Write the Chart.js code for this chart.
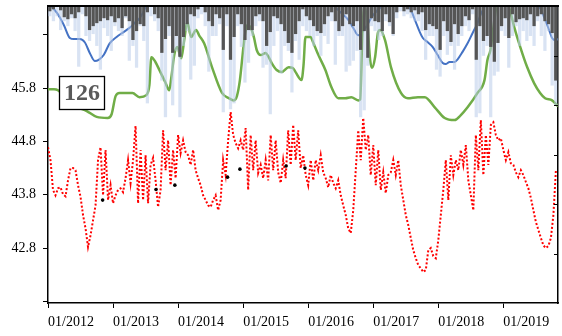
<!DOCTYPE html>
<html>
<head>
<meta charset="utf-8">
<script src="https://cdn.jsdelivr.net/npm/chart.js@4.4.1/dist/chart.umd.min.js"></script>
<style>
  body { margin: 0; background: #fff; }
  #wrap { width: 562px; height: 336px; }
</style>
</head>
<body>
<div id="wrap"><canvas id="levelChart" width="562" height="336"></canvas></div>
<script>
// axis ticks
const tickYears = [2012, 2013, 2014, 2015, 2016, 2017, 2018, 2019];
const yTickMarks = [41.8, 42.8, 43.8, 44.8, 45.8, 46.8];
const yTickLabels = [42.8, 43.8, 44.8, 45.8];

// water level, one reading every two weeks from 01/2012
const redPerYear = 26;
const redVals = [
  44.69,44.45,43.89,43.79,43.92,43.94,43.81,43.77,44.07,44.30,44.30,44.26,43.98,43.76,43.42,43.17,42.82,43.04,43.32,43.60,44.45,44.69,43.79,44.64,43.70,43.98,
  43.64,43.79,43.89,43.92,43.85,44.11,44.45,44.02,44.45,45.09,43.64,44.64,43.70,44.54,43.64,44.36,44.49,44.07,43.57,43.89,45.01,44.26,44.82,43.98,44.64,44.11,
  44.92,44.58,44.82,44.60,44.54,44.36,44.64,44.26,44.11,43.98,43.79,43.70,43.60,43.57,43.70,43.79,43.51,43.70,44.45,44.17,44.82,45.35,44.92,44.77,44.67,44.82,
  44.64,45.05,43.89,44.92,44.26,44.82,44.21,44.36,44.11,44.45,44.07,44.92,44.26,44.82,44.22,44.02,44.45,44.11,45.01,44.36,45.11,44.45,45.01,44.30,44.54,44.17,
  43.98,44.45,44.07,44.45,44.26,44.54,44.22,44.11,43.94,44.17,44.02,43.92,44.07,43.79,43.60,43.42,43.17,43.08,43.51,44.26,45.01,44.45,45.24,44.64,44.92,44.17,
  44.73,43.98,44.64,43.89,44.22,43.83,44.17,44.22,44.45,44.17,44.45,43.98,43.70,43.42,43.23,42.99,42.76,42.61,42.48,42.42,42.35,42.39,42.76,42.80,42.65,42.61,
  42.95,43.42,43.89,44.45,43.70,44.54,44.17,44.45,44.26,44.64,44.36,44.73,44.07,43.79,43.51,44.92,44.26,45.20,44.17,44.92,44.36,45.11,45.16,44.92,44.82,44.86,
  44.64,44.45,44.60,44.39,44.36,44.22,44.13,44.26,44.17,44.04,43.92,43.74,43.51,43.29,43.14,42.99,42.85,42.80,42.84,42.99,43.42,44.26
];

// single measurements
const dotDates = [2012.84, 2013.66, 2013.95, 2014.76, 2014.95, 2015.66, 2015.95];
const dotVals = [43.70, 43.90, 43.98, 44.13, 44.28, 44.34, 44.30];

// green series
const greenDates = [
  2012.000,2012.092,2012.153,2012.275,2012.428,2012.596,2012.749,2012.917,2012.978,
  2013.039,2013.100,2013.299,2013.406,2013.513,2013.559,2013.589,2013.651,2013.712,2013.803,2013.864,2013.895,2013.941,2013.987,
  2014.048,2014.094,2014.140,2014.201,2014.277,2014.323,2014.400,2014.522,2014.675,2014.782,2014.858,2014.904,2014.950,
  2015.011,2015.057,2015.118,2015.164,2015.210,2015.271,2015.347,2015.393,2015.439,2015.515,2015.592,2015.699,2015.760,2015.806,2015.897,2015.928,2015.958,
  2016.035,2016.081,2016.157,2016.264,2016.356,2016.463,2016.570,2016.662,2016.769,2016.799,2016.830,2016.860,2016.906,2016.952,2016.982,
  2017.028,2017.074,2017.105,2017.181,2017.273,2017.426,2017.533,2017.686,2017.793,2017.945,
  2018.098,2018.251,2018.343,2018.450,2018.603,2018.710,2018.756,2018.801,2018.862,2018.908,
  2019.031,2019.092,2019.168,2019.260,2019.367,2019.474,2019.565,2019.642,2019.749,2019.840
];
const greenVals = [
  45.78,45.78,45.76,45.61,45.46,45.37,45.26,45.24,45.31,
  45.65,45.71,45.71,45.63,45.67,45.86,46.38,46.29,46.14,45.91,45.76,45.99,46.42,46.57,
  46.36,46.70,47.04,46.76,46.89,46.79,46.64,46.19,45.71,45.61,45.57,45.65,45.95,
  46.64,46.98,46.93,46.76,46.51,46.42,46.46,46.38,46.27,46.14,46.10,46.19,46.18,46.10,45.95,46.23,46.76,
  46.76,46.64,46.42,46.14,45.82,45.61,45.61,45.63,45.57,45.59,46.70,47.32,47.08,46.33,46.18,
  46.38,46.85,46.89,46.70,46.19,45.71,45.61,45.63,45.63,45.44,
  45.24,45.20,45.29,45.44,45.71,45.95,46.33,46.51,47.08,47.39,
  47.45,47.30,46.94,46.57,46.19,45.89,45.71,45.61,45.57,45.46
];

// blue series
const blueDates = [
  2012.000,2012.061,2012.138,2012.245,2012.336,2012.397,2012.489,2012.565,2012.642,2012.718,2012.779,2012.856,2012.948,
  2013.055,2013.161,2013.253,2013.330,2013.406,2013.467,2013.528,2013.712,
  2014.323,2014.552,2014.659,2014.751,2014.873,2015.011,2015.851,
  2016.310,2016.417,2016.509,2016.616,2016.692,2016.769,2016.860,2016.998,
  2017.227,2017.380,2017.487,2017.563,2017.640,2017.716,2017.762,2017.838,2017.915,2017.991,
  2018.068,2018.113,2018.174,2018.251,2018.297,2018.373,2018.450,2018.526,2018.603,2018.648,2018.710,2018.756,2018.908,
  2019.367,2019.520,2019.565,2019.626,2019.703,2019.749,2019.795,2019.840
];
const blueVals = [
  47.39,47.32,47.21,46.98,46.74,46.72,46.72,46.66,46.46,46.31,46.33,46.42,46.64,
  46.76,46.85,46.93,47.02,47.11,47.23,47.39,47.64,
  47.54,47.36,47.32,47.38,47.34,47.54,47.64,
  47.49,47.32,47.21,47.08,46.93,46.79,46.89,47.17,
  47.41,47.45,47.36,47.30,47.08,46.85,46.74,46.66,46.57,46.42,
  46.27,46.25,46.29,46.29,46.34,46.48,46.64,46.83,47.02,47.17,47.32,47.41,47.60,
  47.54,47.39,47.30,47.13,46.89,46.74,46.70,46.72
];

// bars hanging from the top, 18 per year
const barsPerYear = 18;
const darkBars = [
  5,3,0,4,11,13,8,12,6,0,10,24,20,17,15,12,14,10,
  16,12,22,10,15,34,25,18,20,6,0,8,12,47,33,20,47,30,
  51,31,18,8,10,3,0,6,15,20,8,12,44,8,54,31,8,18,
  34,24,24,10,8,15,40,26,10,12,18,25,37,47,28,15,3,10,
  14,20,25,27,18,10,6,15,25,20,8,18,20,15,44,25,52,12,
  15,16,25,8,16,28,6,0,5,3,6,4,8,6,24,18,20,23,
  44,15,25,36,18,28,20,10,14,3,54,20,35,30,41,56,37,20,
  12,32,8,16,13,12,14,8,20,10,8,15,18,27,75
];
const lightBars = [
  10,15,10,24,15,20,12,25,61,8,30,35,28,40,64,22,30,45,
  20,25,30,12,55,40,62,20,35,98,10,15,25,75,112,30,100,45,
  112,40,25,74,60,12,8,20,66,30,30,18,107,20,104,98,20,41,
  77,57,30,20,15,62,59,109,40,25,68,40,45,87,35,54,20,25,
  30,40,30,50,30,38,15,59,30,30,66,60,55,45,112,105,60,20,
  25,34,30,15,20,30,12,5,10,8,12,15,15,25,54,30,30,64,
  71,30,49,40,64,40,30,20,25,8,112,108,50,40,112,70,66,25,
  30,62,30,20,40,25,35,30,40,15,30,45,25,80,100
];

const serif = 'Liberation Serif, "Times New Roman", serif';

const redPts = redVals.map((v, i) => ({ x: 2012 + i / redPerYear, y: v }));
const darkPts = darkBars.map((v, i) => ({ x: 2012 + (i + 0.5) / barsPerYear, y: v }));
const lightPts = lightBars.map((v, i) => ({ x: 2012 + (i + 0.5) / barsPerYear, y: v }));
const greenPts = greenVals.map((v, i) => ({ x: greenDates[i], y: v }));
const bluePts = blueVals.map((v, i) => ({ x: blueDates[i], y: v }));
const dotPts = dotVals.map((v, i) => ({ x: dotDates[i], y: v }));

// drop the extra room chart.js keeps for half-labels at the axis ends
function noPad(s) {
  s.paddingLeft = 0; s.paddingRight = 0; s.paddingTop = 0; s.paddingBottom = 0;
}

// frame line on top, inner ticks on the right, and the label box
const extras = {
  id: 'extras',
  afterDatasetsDraw(chart) {
    const ctx = chart.ctx;
    const a = chart.chartArea;
    ctx.save();
    ctx.strokeStyle = '#000';
    ctx.lineWidth = 2;
    ctx.beginPath();
    ctx.moveTo(a.left, a.top);
    ctx.lineTo(a.right + 1, a.top);
    ctx.stroke();

    const y2 = chart.scales.y2;
    ctx.lineWidth = 1;
    y2.ticks.forEach(t => {
      if (t.value <= 0 || t.value >= 300) return;
      const py = Math.round(y2.getPixelForValue(t.value)) + 0.5;
      ctx.beginPath();
      ctx.moveTo(a.right - 4, py);
      ctx.lineTo(a.right, py);
      ctx.stroke();
    });

    // value box
    const bx = a.left + 11.5, by = 76.5, bw = 45, bh = 33;
    ctx.fillStyle = '#fff';
    ctx.fillRect(bx, by, bw, bh);
    ctx.lineWidth = 1.3;
    ctx.strokeRect(bx, by, bw, bh);
    ctx.fillStyle = '#595959';
    ctx.font = 'bold 24px ' + serif;
    ctx.textAlign = 'center';
    ctx.textBaseline = 'middle';
    ctx.fillText('126', bx + bw / 2, by + bh / 2 + 1);
    ctx.restore();
  }
};

new Chart(document.getElementById('levelChart'), {
  type: 'bar',
  data: {
    datasets: [
      { type: 'bar', data: darkPts, yAxisID: 'y2', backgroundColor: '#555555',
        barThickness: 2.6, grouped: false, order: 0 },
      { type: 'bar', data: lightPts, yAxisID: 'y2', backgroundColor: 'rgba(185,204,234,0.55)',
        barThickness: 2.6, grouped: false, order: 1 },
      { type: 'line', data: dotPts, yAxisID: 'y', showLine: false, pointRadius: 1.8,
        pointBackgroundColor: '#000', pointBorderWidth: 0, order: 2 },
      { type: 'line', data: redPts, yAxisID: 'y', borderColor: '#ff0000', borderWidth: 2,
        borderDash: [2, 2], pointRadius: 0, tension: 0, order: 3 },
      { type: 'line', data: greenPts, yAxisID: 'y', borderColor: '#70ad47', borderWidth: 2.5,
        pointRadius: 0, cubicInterpolationMode: 'monotone', order: 4 },
      { type: 'line', data: bluePts, yAxisID: 'y', borderColor: '#4472c4', borderWidth: 2,
        pointRadius: 0, cubicInterpolationMode: 'monotone', order: 5 }
    ]
  },
  options: {
    responsive: false,
    animation: false,
    devicePixelRatio: 1,
    layout: { padding: { top: 6, left: 0, right: 0, bottom: 0 } },
    plugins: { legend: { display: false }, tooltip: { enabled: false } },
    scales: {
      x: {
        type: 'linear',
        offset: false,
        min: 2012,
        max: 2019.84,
        afterBuildTicks: s => { s.ticks = tickYears.map(v => ({ value: v })); },
        afterFit: s => { s.height = 33; noPad(s); },
        ticks: {
          align: 'start', maxRotation: 0, autoSkip: false, padding: 6,
          color: '#000', font: { family: serif, size: 14 },
          callback: v => '01/' + v
        },
        grid: { drawOnChartArea: false, offset: false, color: '#000', tickLength: 5 },
        border: { color: '#000', width: 1.5 }
      },
      y: {
        position: 'left',
        min: 41.77,
        max: 47.34,
        afterBuildTicks: s => { s.ticks = yTickMarks.map(v => ({ value: v })); },
        afterFit: s => { s.width = 48; noPad(s); },
        ticks: {
          padding: 7, color: '#000', font: { family: serif, size: 14 },
          callback: v => yTickLabels.includes(v) ? v.toFixed(1) : ''
        },
        grid: { drawOnChartArea: false, color: '#000', tickLength: 5 },
        border: { color: '#000', width: 1.5 }
      },
      y2: {
        position: 'right',
        reverse: true,
        min: 0,
        max: 300,
        afterFit: s => { s.width = 1; noPad(s); },
        ticks: { display: false, stepSize: 50 },
        grid: { display: false },
        border: { color: '#000', width: 1.5 }
      }
    }
  },
  plugins: [extras]
});
</script>
</body>
</html>
